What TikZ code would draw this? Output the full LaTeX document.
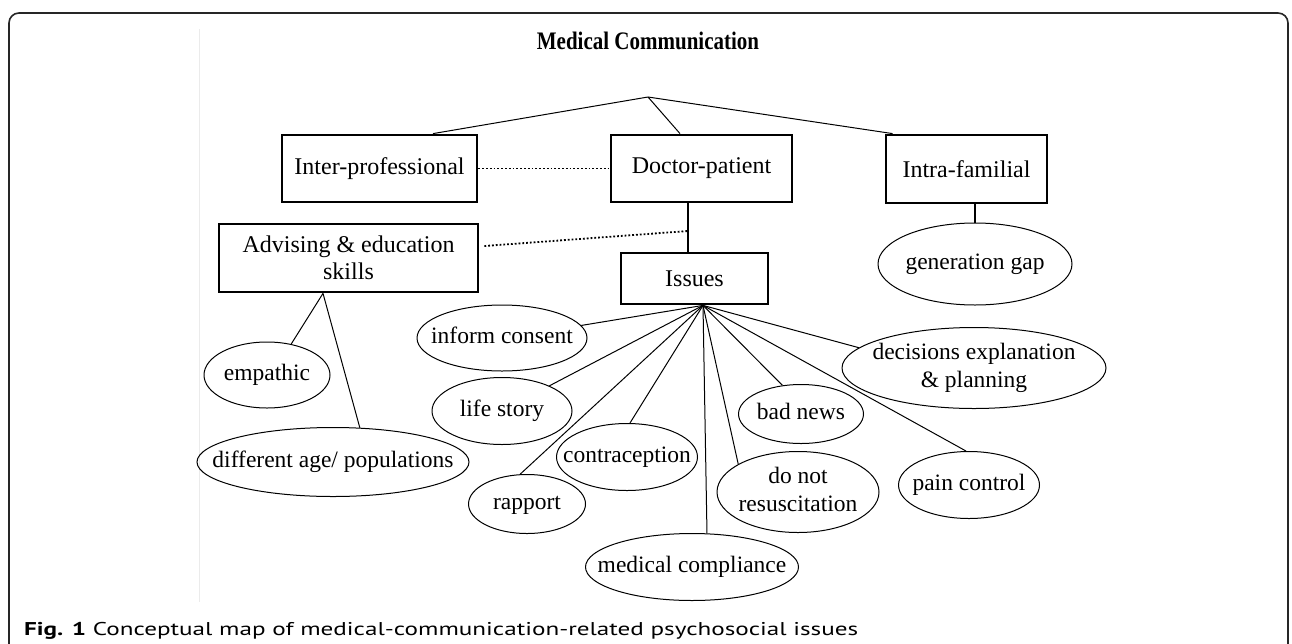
\documentclass[tikz,border=0pt]{standalone}
\usepackage{fontspec}
\usepackage{graphicx}
\setmainfont{Liberation Serif}
\newfontfamily\capfont{PT Sans}
\usetikzlibrary{shapes.geometric}
\newcommand\ctext[1]{\makebox[0pt]{\smash{\raisebox{-0.25em}{\begin{tabular}{@{}c@{}}#1\end{tabular}}}}}
\begin{document}
\begin{tikzpicture}[x=1pt,y=-1pt,
  box/.style={draw,line width=2.8pt,rectangle,inner sep=0pt,align=center,font=\fontsize{24}{27.5}\selectfont},
  oval/.style={draw,line width=1pt,ellipse,inner sep=0pt,font=\fontsize{23.5}{28.5}\selectfont},
  link/.style={line width=1pt},
  stem/.style={line width=1.6pt},
  dotline/.style={line width=1.8pt,dotted}]
\useasboundingbox (0,0) rectangle (1292,643);
\begin{scope}
\clip (0,0) rectangle (1292,643);
\draw[line width=1.6pt,black!85,rounded corners=10pt] (9,13) rectangle (1288,720);
\end{scope}
\draw[black!8,line width=1pt] (199,29) -- (199,602);

\node[inner sep=0pt] (title) at (648,41) {\scalebox{1}[1.2]{\bfseries\fontsize{21}{25}\selectfont Medical Communication}};
\coordinate (apex) at (648,97);

\node[box,minimum width=195pt,minimum height=67pt] (inter) at (379.5,168.5) {Inter-professional};
\node[box,minimum width=181pt,minimum height=67pt] (doc) at (701.5,168.5) {Doctor-patient};
\node[box,minimum width=161pt,minimum height=68pt] (intra) at (966.5,169) {Intra-familial};
\node[box,minimum width=259pt,minimum height=68pt] (adv) at (348.5,258) {Advising \& education\\skills};
\node[box,minimum width=147pt,minimum height=51pt] (iss) at (694.5,278.5) {Issues};

\node[oval,minimum width=194pt,minimum height=82pt] (gen) at (975,264) {\ctext{generation gap}};
\node[oval,minimum width=170pt,minimum height=66pt] (inf) at (502,338) {\ctext{inform consent}};
\node[oval,minimum width=140pt,minimum height=67pt] (life) at (502,411) {\ctext{life story}};
\node[oval,minimum width=126pt,minimum height=66pt] (emp) at (267,375) {\ctext{empathic}};
\node[oval,minimum width=272pt,minimum height=69pt] (diff) at (333,462) {\ctext{different age/ populations}};
\node[oval,minimum width=141pt,minimum height=67pt] (contr) at (627,457) {\ctext{contraception}};
\node[oval,minimum width=117pt,minimum height=59pt] (rap) at (527,504) {\ctext{rapport}};
\node[oval,minimum width=213pt,minimum height=67pt] (medc) at (692,567) {\ctext{medical compliance}};
\node[oval,minimum width=162pt,minimum height=81pt] (dnr) at (798,492) {\ctext{do not\\resuscitation}};
\node[oval,minimum width=125pt,minimum height=59pt] (bad) at (801,414) {\ctext{bad news}};
\node[oval,minimum width=141pt,minimum height=67pt] (pain) at (969,485) {\ctext{pain control}};
\node[oval,minimum width=264pt,minimum height=81pt] (dec) at (974,368) {\ctext{decisions explanation\\\& planning}};

% top branches
\draw[link] (apex) -- ([xshift=53.5pt]inter.north);
\draw[link] (apex) -- ([xshift=-21.5pt]doc.north);
\draw[link] (apex) -- ([xshift=8pt]intra.north west);
% dotted links
\draw[dotline] (inter.east) -- (doc.west);
\coordinate (dpi) at (688,231);
\draw[stem] (doc.south -| dpi) -- (iss.north -| dpi);
\draw[dotline] ([xshift=5pt,yshift=12pt]adv.east) -- (dpi);
\draw[stem] (intra.south -| gen.north) -- (gen.north);
% advising
\coordinate (ah) at ([xshift=-25.5pt]adv.south);
\draw[link] (ah) -- (emp.52);
\draw[link] (ah) -- (diff.52);
% issues fan
\coordinate (hub) at ([xshift=8.5pt]iss.south);
\draw[link] (hub) -- (inf.9);
\draw[link] (hub) -- (life.28);
\draw[link] (hub) -- (rap.103);
\draw[link] (hub) -- (contr.85);
\draw[link] (hub) -- (medc.66);
\draw[link] (hub) -- (dnr.155);
\draw[link] (hub) -- (bad.123);
\draw[link] (hub) -- (pain.95);
\draw[link] (hub) -- (dec.170);

\node[anchor=base west,inner sep=0pt,font=\capfont\fontsize{18.5}{22}\selectfont] (cap) at (24,635) {\resizebox{834pt}{\height}{\textbf{Fig. 1} Conceptual map of medical-communication-related psychosocial issues}};
\end{tikzpicture}
\end{document}
